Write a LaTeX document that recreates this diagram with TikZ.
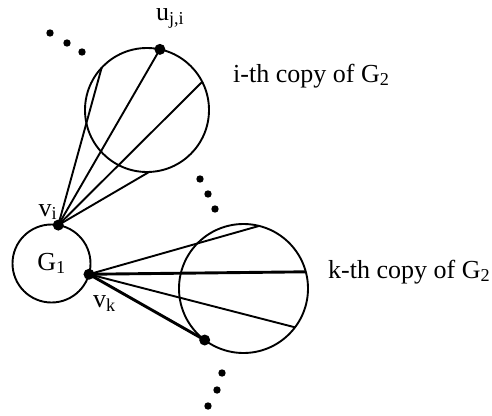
\documentclass[tikz,border=0pt]{standalone}
\usepackage{fontspec}
\setmainfont{Liberation Serif}
\usetikzlibrary{positioning}

\begin{document}
\begin{tikzpicture}[
  x=1pt, y=-1pt,
  graph/.style={circle, draw=black, line width=1.9pt, inner sep=0pt, outer sep=0pt},
  edge/.style={line width=1.9pt},
  heavy/.style={line width=2.9pt},
  lbl/.style={font=\fontsize{26}{30}\selectfont, inner sep=0pt},
]
  \useasboundingbox (0,0) rectangle (492,415);

  \node[graph, lbl, minimum size=78pt] (g1) at (51.5,263.5) {G\textsubscript{1}};
  \node[graph, minimum size=124pt] (copyi) at (147,110) {};
  \node[graph, minimum size=129pt] (copyk) at (243.5,288.5) {};

  \coordinate (vi) at (g1.80);
  \coordinate (vk) at (g1.-16);
  \coordinate (u) at (copyi.78.5);
  \coordinate (w) at (copyk.-127.5);

  \draw[edge] (vi) -- (copyi.137);
  \draw[edge] (vi) -- (u);
  \draw[edge] (vi) -- (copyi.27);
  \draw[edge] (vi) -- (copyi.-88);

  \draw[edge] (vk) -- (copyk.76.7);
  \draw[heavy] (vk) -- (copyk.15.6);
  \draw[edge] (vk) -- (copyk.-37.9);
  \draw[heavy] (vk) -- (w);

  \foreach \p in {vi, vk, u, w}
    \fill (\p) circle (5.5);

  \foreach \x/\y in {50/33, 67/43, 82/52, 200/179, 208/194, 215/209, 222/373, 217/390, 208/406}
    \fill (\x,\y) circle (3.7);

  \node[lbl, above left=5pt and 1pt of vi] (vilbl) {v\textsubscript{i}};
  \node[lbl, below right=21pt and 4pt of vk] (vklbl) {v\textsubscript{k}};
  \node[lbl, above right=21pt and -4pt of u] (ulbl) {u\textsubscript{j,i}};

  \node[lbl, anchor=base west] (copyilbl) at (233,82) {i-th copy of G\textsubscript{2}};
  \node[lbl, anchor=base west] (copyklbl) at (328,278) {k-th copy of G\textsubscript{2}};
\end{tikzpicture}
\end{document}
